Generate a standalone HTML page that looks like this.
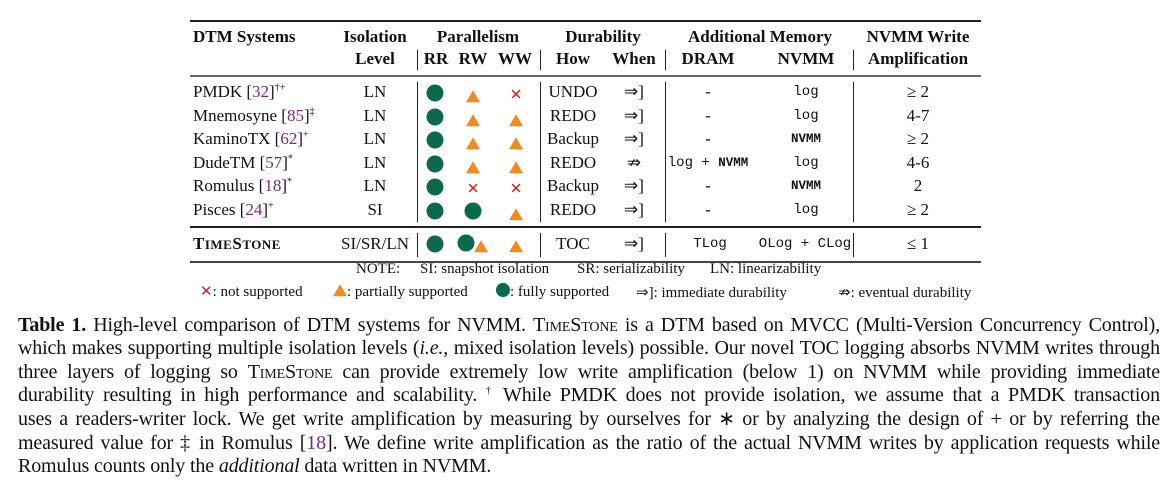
<!DOCTYPE html>
<html><head><meta charset="utf-8">
<style>
body{margin:0;width:1176px;height:486px;background:#fff;position:relative;overflow:hidden;font-family:"Liberation Serif",serif;color:#111}
.a{position:absolute;white-space:nowrap}
.c{transform:translateX(-50%)}
.h{font-weight:bold;font-size:17px}
.t{font-size:17px}
.n{font-size:15px}
.m{font-family:"Liberation Mono",monospace;font-size:14px}
.mb{font-family:"Liberation Mono",monospace;font-size:12.5px;font-weight:bold}
.rule{position:absolute;left:190px;width:791px;background:#222}
.v{position:absolute;width:1px;background:#222}
.dot{position:absolute;width:17px;height:17px;border-radius:50%;background:#0b6a4c;transform:translate(-50%,-50%)}
.tri{position:absolute;width:0;height:0;border-left:7px solid transparent;border-right:7px solid transparent;border-bottom:12px solid #f5891d;transform:translate(-50%,-40%)}
.x{position:absolute;color:#e3171b;font-size:15px;font-family:"DejaVu Sans",sans-serif;transform:translate(-50%,-50%);line-height:1}
.ref{color:#7a2a7a}
sup{font-size:10px;line-height:0}
.sc{font-variant:small-caps}
.cap{position:absolute;left:18px;width:1142px;font-size:20px;letter-spacing:-0.15px;text-align:justify;text-align-last:justify;white-space:nowrap;line-height:22px;height:22px}
</style></head><body>
<div class="rule" style="top:20px;height:2px"></div>
<div class="rule" style="top:75px;height:2px;background:#666"></div>
<div class="rule" style="top:226px;height:2px"></div>
<div class="rule" style="top:261px;height:2px;background:#444"></div>

<div class="a h" style="left:193px;top:27px">DTM Systems</div>
<div class="a h c" style="left:375px;top:27px">Isolation</div>
<div class="a h c" style="left:375px;top:49px">Level</div>
<div class="a h c" style="left:478px;top:27px">Parallelism</div>
<div class="a h c" style="left:436px;top:49px">RR</div>
<div class="a h c" style="left:473px;top:49px">RW</div>
<div class="a h c" style="left:515px;top:49px">WW</div>
<div class="a h c" style="left:603px;top:27px">Durability</div>
<div class="a h c" style="left:573px;top:49px">How</div>
<div class="a h c" style="left:634px;top:49px">When</div>
<div class="a h c" style="left:760px;top:27px">Additional Memory</div>
<div class="a h c" style="left:708px;top:49px">DRAM</div>
<div class="a h c" style="left:806px;top:49px">NVMM</div>
<div class="a h c" style="left:918px;top:27px">NVMM Write</div>
<div class="a h c" style="left:918px;top:49px">Amplification</div>

<div class="v" style="left:417px;top:50px;height:20px"></div>
<div class="v" style="left:540px;top:50px;height:20px"></div>
<div class="v" style="left:665px;top:50px;height:20px"></div>
<div class="v" style="left:853px;top:50px;height:20px"></div>
<div class="v" style="left:417px;top:82px;height:140px"></div>
<div class="v" style="left:540px;top:82px;height:140px"></div>
<div class="v" style="left:665px;top:82px;height:140px"></div>
<div class="v" style="left:853px;top:82px;height:140px"></div>
<div class="v" style="left:417px;top:233px;height:24px"></div>
<div class="v" style="left:540px;top:233px;height:24px"></div>
<div class="v" style="left:665px;top:233px;height:24px"></div>
<div class="v" style="left:853px;top:233px;height:24px"></div>

<div id="rows"></div>

<div class="a" style="left:193px;top:234px;font-weight:bold;font-size:17px;letter-spacing:0.5px">T<span style="font-size:13px">IME</span>S<span style="font-size:13px">TONE</span></div>
<div class="a t c" style="left:375px;top:234px">SI/SR/LN</div>
<div class="dot" style="left:435px;top:244px"></div>
<div class="dot" style="left:466px;top:243px"></div>
<div class="tri" style="left:481px;top:245px"></div>
<div class="tri" style="left:516px;top:245px"></div>
<div class="a t c" style="left:573px;top:234px">TOC</div>
<div class="a t c" style="left:634px;top:234px">⇒]</div>
<div class="a m c" style="left:710px;top:236px">TLog</div>
<div class="a m c" style="left:805px;top:236px">OLog + CLog</div>
<div class="a t c" style="left:918px;top:234px">≤ 1</div>

<div class="a n" style="left:356px;top:261px">NOTE:</div>
<div class="a n" style="left:420px;top:261px">SI: snapshot isolation</div>
<div class="a n" style="left:577px;top:261px">SR: serializability</div>
<div class="a n" style="left:710px;top:261px">LN: linearizability</div>

<div class="a n" style="left:200px;top:282px"><span style="color:#e3171b;font-family:'DejaVu Sans'">✕</span>: not supported</div>
<div class="tri" style="left:340px;top:289px"></div>
<div class="a n" style="left:347px;top:284px">: partially supported</div>
<div class="dot" style="left:503px;top:290px;width:14px;height:14px"></div>
<div class="a n" style="left:510px;top:284px">: fully supported</div>
<div class="a n" style="left:636px;top:283px">⇒]: immediate durability</div>
<div class="a n" style="left:838px;top:283px">⇏: eventual durability</div>

<div class="cap" style="top:314px"><b>Table 1.</b> High-level comparison of DTM systems for NVMM. <span class="sc">TimeStone</span> is a DTM based on MVCC (Multi-Version Concurrency Control),</div>
<div class="cap" style="top:337px">which makes supporting multiple isolation levels (<i>i.e.</i>, mixed isolation levels) possible. Our novel TOC logging absorbs NVMM writes through</div>
<div class="cap" style="top:361px">three layers of logging so <span class="sc">TimeStone</span> can provide extremely low write amplification (below 1) on NVMM while providing immediate</div>
<div class="cap" style="top:384px">durability resulting in high performance and scalability. <sup>†</sup> While PMDK does not provide isolation, we assume that a PMDK transaction</div>
<div class="cap" style="top:408px">uses a readers-writer lock. We get write amplification by measuring by ourselves for ∗ or by analyzing the design of + or by referring the</div>
<div class="cap" style="top:432px">measured value for ‡ in Romulus [<span class="ref">18</span>]. We define write amplification as the ratio of the actual NVMM writes by application requests while</div>
<div class="cap" style="top:455px;text-align-last:left">Romulus counts only the <i>additional</i> data written in NVMM.</div>

<script>
const names=["PMDK","Mnemosyne","KaminoTX","DudeTM","Romulus","Pisces"];
const refs=["32","85","62","57","18","24"];
const marks=["†+","‡","+","*","*","+"];
const iso=["LN","LN","LN","LN","LN","SI"];
const rr=["f","f","f","f","f","f"];
const rw=["p","p","p","p","n","f"];
const ww=["n","p","p","p","n","p"];
const how=["UNDO","REDO","Backup","REDO","Backup","REDO"];
const when=["⇒]","⇒]","⇒]","⇏","⇒]","⇒]"];
const dram=["-","-","-","log + NVMM","-","-"];
const nvmm=["log","log","NVMM","log","NVMM","log"];
const amp=["≥ 2","4-7","≥ 2","4-6","2","≥ 2"];
const root=document.getElementById('rows');
function mk(cls,x,y,html){const d=document.createElement('div');d.className=cls;d.style.left=x+'px';d.style.top=y+'px';d.innerHTML=html;root.appendChild(d);return d;}
function sym(s,x,cy){
  if(s==='f'){const d=mk('dot',x,cy,'');}
  else if(s==='p'){const d=mk('tri',x,cy+2,'');}
  else{const d=mk('x',x,cy+2,'✕');}
}
names.forEach((n,i)=>{
  const cy=93+i*23.6, ty=cy-11;
  const nm=mk('a t',193,ty,n+' [<span class="ref">'+refs[i]+'</span>]<sup>'+marks[i]+'</sup>');
  
  
  mk('a t c',375,ty,iso[i]);
  sym(rr[i],435,cy);sym(rw[i],473,cy);sym(ww[i],516,cy);
  mk('a t c',573,ty,how[i]);
  mk('a t c',634,ty,when[i]);
  dram[i]==='-'?mk('a t c',708,ty,'-'):mk('a m c',708,ty+2,'log + <span class="mb">NVMM</span>');
  nvmm[i]==='log'?mk('a m c',806,ty+2,'log'):mk('a mb c',806,ty+3,'NVMM');
  mk('a t c',918,ty,amp[i]);
});
</script>
</body></html>
